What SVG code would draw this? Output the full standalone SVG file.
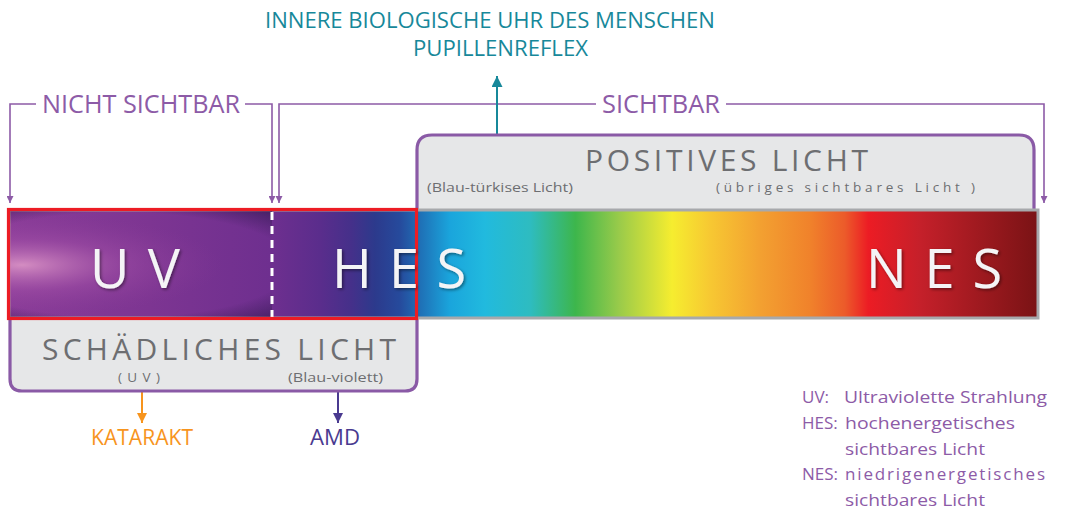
<svg xmlns="http://www.w3.org/2000/svg" width="1073" height="517" viewBox="0 0 1073 517">
<style>
.br{fill:none;stroke:#8d5ba7;stroke-width:1.6}
.brt{font-family:"Open Sans","Liberation Sans",sans-serif;font-size:25px;fill:#8d5ba7}
.big{font-family:"Open Sans","Liberation Sans",sans-serif;font-size:30px;fill:#6d6e71}
.sub{font-family:"Open Sans","Liberation Sans",sans-serif;font-size:13.5px;fill:#6d6e71}
.bar{font-family:"Open Sans","Liberation Sans",sans-serif;font-size:54px;fill:#f4f4f6;filter:url(#sh)}
.teal{font-family:"Open Sans","Liberation Sans",sans-serif;font-size:22px;fill:#17889a}
.leg{font-family:"Open Sans","Liberation Sans",sans-serif;font-size:17px;fill:#8d5ba7}
.box{fill:#e6e7e8;stroke:#8a5aa6;stroke-width:3.2}
</style>
<defs>
<marker id="ap" viewBox="0 0 10 10" refX="10" refY="5" markerWidth="10" markerHeight="7" markerUnits="userSpaceOnUse" orient="auto"><path d="M0,0 L10,5 L0,10 z" fill="#8d5ba7"/></marker>
<marker id="at" viewBox="0 0 10 10" refX="10" refY="5" markerWidth="18" markerHeight="11" markerUnits="userSpaceOnUse" orient="auto"><path d="M0,0 L10,5 L0,10 z" fill="#17889a"/></marker>
<marker id="ao" viewBox="0 0 10 10" refX="10" refY="5" markerWidth="13" markerHeight="10" markerUnits="userSpaceOnUse" orient="auto"><path d="M0,0 L10,5 L0,10 z" fill="#f7941d"/></marker>
<marker id="ad" viewBox="0 0 10 10" refX="10" refY="5" markerWidth="13" markerHeight="10" markerUnits="userSpaceOnUse" orient="auto"><path d="M0,0 L10,5 L0,10 z" fill="#4a3a90"/></marker>
<linearGradient id="spec" gradientUnits="userSpaceOnUse" x1="9" y1="0" x2="1037" y2="0">
<stop offset="0" stop-color="#8a3c98"/>
<stop offset="0.137" stop-color="#7d3592"/>
<stop offset="0.256" stop-color="#6e2f8f"/>
<stop offset="0.303" stop-color="#5a2d8c"/>
<stop offset="0.333" stop-color="#45308a"/>
<stop offset="0.356" stop-color="#2c3a8c"/>
<stop offset="0.380" stop-color="#264a9c"/>
<stop offset="0.400" stop-color="#1f70b6"/>
<stop offset="0.429" stop-color="#1aa5dc"/>
<stop offset="0.463" stop-color="#21bade"/>
<stop offset="0.507" stop-color="#2ebcc0"/>
<stop offset="0.551" stop-color="#3db64c"/>
<stop offset="0.594" stop-color="#9acb4a"/>
<stop offset="0.645" stop-color="#f6ed2f"/>
<stop offset="0.682" stop-color="#f7c832"/>
<stop offset="0.730" stop-color="#f3a131"/>
<stop offset="0.779" stop-color="#f0822b"/>
<stop offset="0.813" stop-color="#ec5b2a"/>
<stop offset="0.836" stop-color="#ec1c24"/>
<stop offset="0.886" stop-color="#c5202a"/>
<stop offset="1" stop-color="#7a1315"/>
</linearGradient>
<radialGradient id="glow" gradientUnits="userSpaceOnUse" cx="0" cy="0" r="1" gradientTransform="matrix(200 0 0 52 22 265)">
<stop offset="0" stop-color="#d891c4" stop-opacity="0.95"/>
<stop offset="0.5" stop-color="#a552a8" stop-opacity="0.45"/>
<stop offset="1" stop-color="#8a3c98" stop-opacity="0"/>
</radialGradient>
<radialGradient id="vig" gradientUnits="userSpaceOnUse" cx="0" cy="0" r="1" gradientTransform="matrix(230 0 0 70 120 265)">
<stop offset="0.75" stop-color="#2a1648" stop-opacity="0"/>
<stop offset="1" stop-color="#2a1648" stop-opacity="0.55"/>
</radialGradient>
<clipPath id="uvclip"><rect x="9" y="210" width="263" height="108"/></clipPath>
<filter id="sh" x="-10%" y="-20%" width="130%" height="150%"><feDropShadow dx="1.5" dy="1.5" stdDeviation="1.5" flood-color="#000" flood-opacity="0.45"/></filter>
</defs>

<g id="connectors">
<polyline class="br" points="36,104 10,104 10,203" marker-end="url(#ap)"/>
<polyline class="br" points="245,104 272,104 272,203" marker-end="url(#ap)"/>
<polyline class="br" points="596,104 279,104 279,203" marker-end="url(#ap)"/>
<polyline class="br" points="726,104 1044,104 1044,203" marker-end="url(#ap)"/>
<line x1="497" y1="165" x2="497" y2="76" stroke="#17889a" stroke-width="2" marker-end="url(#at)"/>
<line x1="142" y1="385" x2="142" y2="423" stroke="#f7941d" stroke-width="2" marker-end="url(#ao)"/>
<line x1="338" y1="385" x2="338" y2="423" stroke="#4a3a90" stroke-width="2" marker-end="url(#ad)"/>
</g>

<g id="top-label">
<text class="teal" x="265" y="28" textLength="450" lengthAdjust="spacingAndGlyphs">INNERE BIOLOGISCHE UHR DES MENSCHEN</text>
<text class="teal" x="413" y="56" textLength="175" lengthAdjust="spacingAndGlyphs">PUPILLENREFLEX</text>
</g>

<g id="nicht-sichtbar">
<text class="brt" x="42" y="113" textLength="198" lengthAdjust="spacingAndGlyphs">NICHT SICHTBAR</text>
</g>
<g id="sichtbar">
<text class="brt" x="602" y="113" textLength="118" lengthAdjust="spacingAndGlyphs">SICHTBAR</text>
</g>

<g id="positives-licht">
<path class="box" d="M417,212 V150 Q417,135 432,135 H1019 Q1034,135 1034,150 V212"/>
<text class="big" x="585" y="171" textLength="283" lengthAdjust="spacing">POSITIVES LICHT</text>
<text class="sub" x="427" y="192" textLength="146" lengthAdjust="spacingAndGlyphs">(Blau-türkises Licht)</text>
<text class="sub" x="716" y="192" textLength="259" lengthAdjust="spacing">(übriges sichtbares Licht )</text>
</g>

<g id="schaedliches-licht">
<path class="box" d="M10,316 V379 Q10,391 22,391 H405 Q417,391 417,379 V316"/>
<text class="big" x="42" y="360" textLength="354" lengthAdjust="spacing">SCHÄDLICHES LICHT</text>
<text class="sub" x="118" y="382" textLength="42" lengthAdjust="spacing">( U V )</text>
<text class="sub" x="288" y="382" textLength="95" lengthAdjust="spacingAndGlyphs">(Blau-violett)</text>
</g>

<g id="spectrum">
<rect x="9" y="210" width="1029" height="108" fill="url(#spec)" stroke="#a7a9ac" stroke-width="3"/>
<g clip-path="url(#uvclip)">
<rect x="9" y="210" width="263" height="108" fill="url(#glow)"/>
<rect x="9" y="210" width="263" height="108" fill="url(#vig)"/>
</g>
<line x1="272" y1="212" x2="272" y2="318" stroke="#ffffff" stroke-width="3" stroke-dasharray="8,6"/>
<rect x="8.5" y="209.5" width="408" height="109" fill="none" stroke="#ec1c24" stroke-width="3.2"/>
</g>

<g id="uv"><text class="bar" x="90" y="288" textLength="90" lengthAdjust="spacing">U V</text></g>
<g id="hes"><text class="bar" x="332" y="288" textLength="134" lengthAdjust="spacing">H E S</text></g>
<g id="nes"><text class="bar" x="866" y="288" textLength="136" lengthAdjust="spacing">N E S</text></g>

<g id="katarakt"><text x="91" y="445" font-family="Open Sans, Liberation Sans, sans-serif" font-size="21" fill="#f7941d" textLength="102" lengthAdjust="spacingAndGlyphs">KATARAKT</text></g>
<g id="amd"><text x="310" y="445" font-family="Open Sans, Liberation Sans, sans-serif" font-size="21" fill="#4a3a90" textLength="50" lengthAdjust="spacingAndGlyphs">AMD</text></g>

<g id="legend">
<text class="leg" x="802" y="403">UV:</text>
<text class="leg" x="844" y="403" textLength="203" lengthAdjust="spacingAndGlyphs">Ultraviolette Strahlung</text>
<text class="leg" x="802" y="429">HES:</text>
<text class="leg" x="845" y="429" textLength="170" lengthAdjust="spacingAndGlyphs">hochenergetisches</text>
<text class="leg" x="845" y="455" textLength="140" lengthAdjust="spacingAndGlyphs">sichtbares Licht</text>
<text class="leg" x="802" y="480">NES:</text>
<text class="leg" x="845" y="480" textLength="200" lengthAdjust="spacing">niedrigenergetisches</text>
<text class="leg" x="845" y="506" textLength="140" lengthAdjust="spacingAndGlyphs">sichtbares Licht</text>
</g>
</svg>
